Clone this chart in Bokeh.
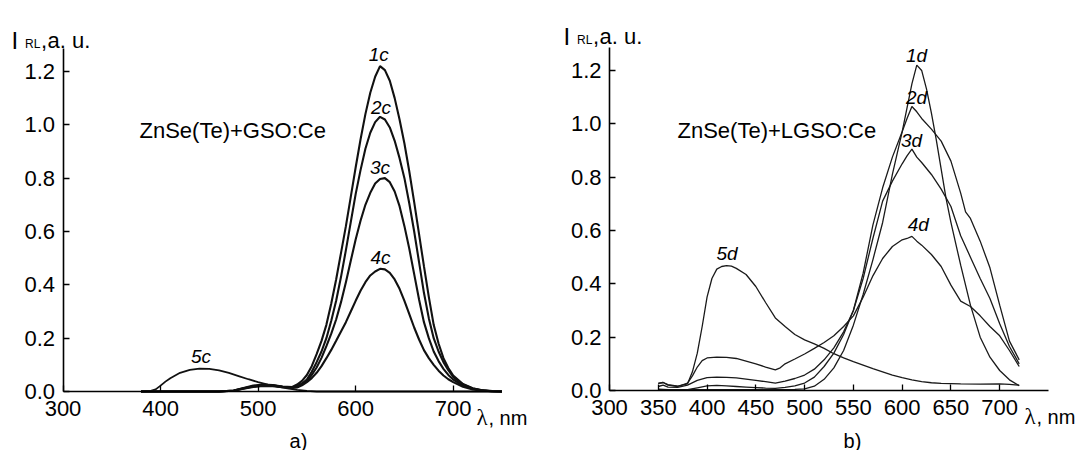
from bokeh.plotting import figure
from bokeh.models import Range1d, FixedTicker, Label, LinearAxis, CustomJSTickFormatter
from bokeh.layouts import row
from bokeh.embed import file_html
from bokeh.resources import INLINE

# ---------------- data: panel a) ZnSe(Te)+GSO:Ce ----------------
wl_c = [380, 460, 475, 485, 495, 505, 515, 525, 535, 540, 545, 550, 555, 560, 565, 570, 575,
        580, 585, 590, 595, 600, 605, 610, 615, 620, 625, 630, 635, 640, 645, 650, 655,
        660, 665, 670, 675, 680, 685, 690, 695, 700, 710, 720, 730, 740, 750]
i_1c = [0, 0, 0.004, 0.013, 0.022, 0.026, 0.024, 0.019, 0.017, 0.026, 0.040, 0.062, 0.095, 0.14, 0.19, 0.25, 0.33,
        0.42, 0.52, 0.62, 0.73, 0.84, 0.945, 1.04, 1.12, 1.18, 1.22, 1.205, 1.165, 1.10, 1.02, 0.93, 0.825,
        0.71, 0.59, 0.47, 0.355, 0.25, 0.18, 0.125, 0.088, 0.06, 0.028, 0.012, 0.005, 0.002, 0]
i_2c = [0, 0, 0.004, 0.012, 0.020, 0.024, 0.023, 0.018, 0.015, 0.020, 0.030, 0.045, 0.074, 0.11, 0.15, 0.20, 0.265,
        0.34, 0.43, 0.53, 0.635, 0.74, 0.83, 0.91, 0.97, 1.01, 1.03, 1.02, 0.99, 0.94, 0.875, 0.80, 0.705,
        0.60, 0.485, 0.37, 0.275, 0.20, 0.15, 0.11, 0.08, 0.055, 0.026, 0.011, 0.004, 0.001, 0]
i_3c = [0, 0, 0.003, 0.011, 0.019, 0.023, 0.022, 0.018, 0.015, 0.019, 0.027, 0.040, 0.062, 0.09, 0.126, 0.17, 0.217,
        0.27, 0.335, 0.41, 0.49, 0.57, 0.64, 0.70, 0.745, 0.78, 0.797, 0.80, 0.785, 0.75, 0.695, 0.62, 0.535,
        0.44, 0.345, 0.26, 0.20, 0.15, 0.114, 0.085, 0.062, 0.045, 0.022, 0.010, 0.004, 0.001, 0]
i_4c = [0, 0, 0.003, 0.010, 0.017, 0.021, 0.020, 0.016, 0.013, 0.015, 0.023, 0.035, 0.050, 0.07, 0.095, 0.125, 0.156,
        0.19, 0.225, 0.26, 0.30, 0.34, 0.378, 0.41, 0.435, 0.45, 0.46, 0.458, 0.445, 0.42, 0.385, 0.34, 0.29,
        0.24, 0.195, 0.155, 0.125, 0.10, 0.078, 0.06, 0.046, 0.035, 0.018, 0.008, 0.003, 0.001, 0]
wl_5c = [380, 390, 395, 400, 405, 410, 420, 430, 440, 450, 460, 470, 480, 490, 500, 510, 520, 530, 540, 550, 560, 750]
i_5c = [0, 0.002, 0.008, 0.022, 0.037, 0.05, 0.07, 0.081, 0.086, 0.085, 0.079, 0.07, 0.058, 0.046, 0.035, 0.026,
        0.018, 0.012, 0.006, 0.002, 0, 0]

# ---------------- data: panel b) ZnSe(Te)+LGSO:Ce ----------------
wl_1d = [350, 400, 450, 490, 500, 510, 520, 530, 540, 550, 560, 570, 580, 590, 600, 605, 610, 615, 620,
         625, 630, 635, 640, 645, 650, 655, 660, 670, 680, 690, 700, 710, 720]
i_1d = [0.003, 0.003, 0.003, 0.004, 0.006, 0.016, 0.042, 0.085, 0.15, 0.245, 0.36, 0.49, 0.63, 0.81, 0.97, 1.06,
        1.15, 1.22, 1.20, 1.13, 1.04, 0.94, 0.83, 0.72, 0.63, 0.55, 0.47, 0.32, 0.20, 0.125, 0.075, 0.04, 0.018]
wl_2d = [350, 360, 370, 380, 390, 400, 410, 420, 430, 440, 450, 460, 470, 480, 490, 500, 510, 520, 530, 540,
         550, 560, 570, 580, 590, 600, 605, 610, 615, 620, 630, 640, 650, 660, 665, 670, 680, 690, 700, 710, 720]
i_2d = [0.005, 0.003, 0.002, 0.003, 0.010, 0.017, 0.019, 0.017, 0.015, 0.013, 0.011, 0.009, 0.008, 0.012, 0.017,
        0.028, 0.05, 0.09, 0.14, 0.21, 0.30, 0.44, 0.62, 0.76, 0.875, 0.97, 1.02, 1.065, 1.045, 1.02, 0.98, 0.935,
        0.86, 0.74, 0.67, 0.645, 0.56, 0.46, 0.32, 0.185, 0.115]
wl_3d = [350, 355, 360, 370, 380, 390, 400, 410, 420, 430, 440, 450, 460, 470, 480, 490, 500, 510, 520, 530,
         540, 550, 560, 570, 580, 590, 600, 605, 610, 615, 620, 630, 640, 650, 660, 670, 680, 690, 700, 710, 720]
i_3d = [0.015, 0.02, 0.013, 0.012, 0.02, 0.038, 0.048, 0.05, 0.049, 0.047, 0.043, 0.038, 0.033, 0.028, 0.035,
        0.045, 0.058, 0.08, 0.115, 0.16, 0.22, 0.30, 0.42, 0.57, 0.71, 0.785, 0.85, 0.88, 0.905, 0.875, 0.855,
        0.81, 0.755, 0.69, 0.58, 0.50, 0.42, 0.345, 0.25, 0.165, 0.10]
wl_4d = [350, 355, 360, 370, 380, 385, 390, 395, 400, 410, 420, 430, 440, 450, 460, 470, 475, 480, 490, 500,
         510, 520, 530, 540, 550, 560, 570, 580, 590, 600, 605, 610, 615, 620, 630, 640, 650, 660, 670, 680,
         690, 700, 710, 720]
i_4d = [0.027, 0.03, 0.02, 0.015, 0.028, 0.055, 0.088, 0.112, 0.122, 0.125, 0.124, 0.12, 0.11, 0.10, 0.088,
        0.077, 0.085, 0.10, 0.118, 0.137, 0.158, 0.18, 0.205, 0.24, 0.28, 0.35, 0.43, 0.495, 0.54, 0.565, 0.57,
        0.578, 0.56, 0.545, 0.51, 0.465, 0.395, 0.335, 0.315, 0.28, 0.24, 0.205, 0.15, 0.09]
wl_5d = [350, 355, 360, 370, 380, 385, 390, 395, 400, 405, 410, 415, 420, 425, 430, 440, 450, 460, 470, 480,
         490, 500, 510, 520, 530, 540, 550, 560, 570, 580, 590, 600, 610, 620, 630, 640, 660, 680, 700, 710, 720]
i_5d = [0.027, 0.03, 0.022, 0.016, 0.025, 0.07, 0.14, 0.24, 0.35, 0.42, 0.455, 0.465, 0.468, 0.466, 0.458,
        0.435, 0.39, 0.33, 0.272, 0.24, 0.21, 0.19, 0.175, 0.158, 0.138, 0.122, 0.108, 0.095, 0.082, 0.07,
        0.058, 0.048, 0.04, 0.033, 0.029, 0.027, 0.025, 0.024, 0.025, 0.023, 0.02]

y_ticks = [0.0, 0.2, 0.4, 0.6, 0.8, 1.0, 1.2]
x_ticks_a = [300, 400, 500, 600, 700]
x_ticks_b = [300, 350, 400, 450, 500, 550, 600, 650, 700]

curves_a = [("1c", wl_c, i_1c), ("2c", wl_c, i_2c), ("3c", wl_c, i_3c), ("4c", wl_c, i_4c), ("5c", wl_5c, i_5c)]
curves_b = [("1d", wl_1d, i_1d), ("2d", wl_2d, i_2d), ("3d", wl_3d, i_3d), ("4d", wl_4d, i_4d), ("5d", wl_5d, i_5d)]

# curve tags (data units)
tags_a = {"1c": (623.7, 1.264), "2c": (626, 1.066), "3c": (625, 0.839), "4c": (625.4, 0.504), "5c": (441.5, 0.131)}
tags_b = {"1d": (614.8, 1.256), "2d": (614.8, 1.097), "3d": (609.6, 0.937), "4d": (616.5, 0.621), "5d": (420.4, 0.515)}

SANS = "Liberation Sans"
SERIF = "Liberation Serif"
HEIGHT = 450
PX_PER_NM = 0.9755
PX_PER_UNIT = 266.7


def make_fig(width, ax_x, ax_y, xticks):
    # ax_x: canvas x of the 300 nm position, ax_y: canvas y of intensity 0
    xr = Range1d(300 - ax_x / PX_PER_NM, 300 + (width - ax_x) / PX_PER_NM)
    yr = Range1d(-(HEIGHT - ax_y) / PX_PER_UNIT, ax_y / PX_PER_UNIT)
    p = figure(width=width, height=HEIGHT, x_range=xr, y_range=yr,
               output_backend="svg", toolbar_location=None,
               x_axis_location=None, y_axis_location=None,
               min_border_left=0, min_border_right=0, min_border_top=0, min_border_bottom=0)
    p.title.visible = False
    p.outline_line_color = None
    p.grid.visible = False
    xa = LinearAxis(fixed_location=0, bounds=(300, 750), ticker=FixedTicker(ticks=xticks))
    ya = LinearAxis(fixed_location=300, bounds=(0, 1.285), ticker=FixedTicker(ticks=y_ticks),
                    formatter=CustomJSTickFormatter(code="return tick.toFixed(1);"))
    for ax in (xa, ya):
        ax.axis_line_color = "black"
        ax.axis_line_width = 1.6
        ax.major_tick_line_color = "black"
        ax.major_tick_line_width = 1.3
        ax.major_tick_in = 6
        ax.major_tick_out = 0
        ax.minor_tick_line_color = None
        ax.major_label_text_font = SANS
        ax.major_label_text_font_size = "22px"
        ax.major_label_text_color = "black"
    xa.major_label_standoff = 9
    ya.major_label_standoff = 8
    p.add_layout(xa, "below")
    p.add_layout(ya, "left")
    return p


def add_text(p, x, y, text, size="21px", font=SANS, style="normal", align="left", baseline="alphabetic"):
    p.add_layout(Label(x=x, y=y, text=text, text_font=font, text_font_size=size, text_font_style=style,
                       text_align=align, text_baseline=baseline, text_color="black"))


def put(p, left, ax_x, ax_y, px, py, text, **kw):
    # place a text at page pixel (px, py)
    add_text(p, 300 + (px - left - ax_x) / PX_PER_NM, (ax_y - py) / PX_PER_UNIT, text, **kw)


# ---------------- panel a ----------------
LA, AXA, AYA = 0, 62.5, 391
pa = make_fig(540, AXA, AYA, x_ticks_a)
for name, xs, ys in curves_a:
    pa.line(xs, ys, line_color="#111111", line_width=2.1 if name != "5c" else 1.8)
for name, (tx, ty) in tags_a.items():
    add_text(pa, tx, ty, name, size="19px", style="italic", align="center", baseline="middle")
put(pa, LA, AXA, AYA, 139, 130, "ZnSe(Te)+GSO:Ce", size="22px", baseline="middle")
put(pa, LA, AXA, AYA, 11, 39.7, "I", size="24px")
put(pa, LA, AXA, AYA, 24.5, 43.0, "RL", size="12px")
put(pa, LA, AXA, AYA, 40.5, 39.7, ",", size="22px")
put(pa, LA, AXA, AYA, 47.0, 39.7, "a. u.", size="22px")
put(pa, LA, AXA, AYA, 476, 417, "λ", size="23px", font=SERIF)
put(pa, LA, AXA, AYA, 488, 417, ", nm", size="20px")
put(pa, LA, AXA, AYA, 298, 440, "a)", size="20px", align="center")

# ---------------- panel b ----------------
LB, AXB, AYB = 540, 69, 390
pb = make_fig(544, AXB, AYB, x_ticks_b)
for name, xs, ys in curves_b:
    pb.line(xs, ys, line_color="#1a1a1a", line_width=1.3)
for name, (tx, ty) in tags_b.items():
    add_text(pb, tx, ty, name, size="19px", style="italic", align="center", baseline="middle")
put(pb, LB, AXB, AYB, 677, 130, "ZnSe(Te)+LGSO:Ce", size="22px", baseline="middle")
put(pb, LB, AXB, AYB, 563, 36, "I", size="24px")
put(pb, LB, AXB, AYB, 576.5, 39.3, "RL", size="12px")
put(pb, LB, AXB, AYB, 592.5, 36, ",", size="22px")
put(pb, LB, AXB, AYB, 599.0, 36, "a. u.", size="22px")
put(pb, LB, AXB, AYB, 1024, 416, "λ", size="23px", font=SERIF)
put(pb, LB, AXB, AYB, 1036, 416, ", nm", size="20px")
put(pb, LB, AXB, AYB, 852, 440, "b)", size="20px", align="center")

layout = row(pa, pb)
open("out.html", "w").write(file_html(layout, INLINE))
